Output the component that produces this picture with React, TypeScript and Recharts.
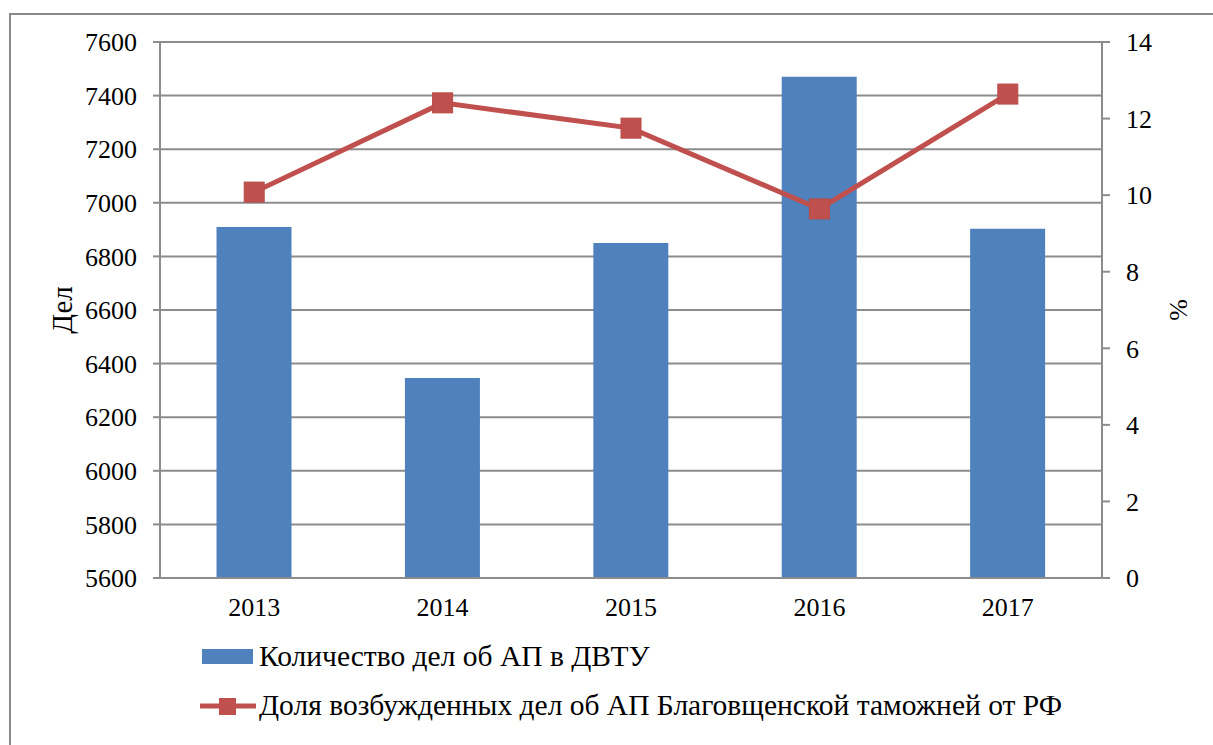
import React from 'react';
import { ComposedChart, Bar, Line, XAxis, YAxis, CartesianGrid, Legend, Label } from 'recharts';

const years = ['2013', '2014', '2015', '2016', '2017'];
const casesDVTU = [6910, 6346, 6850, 7470, 6903];
const sharePercent = [10.08, 12.41, 11.75, 9.64, 12.64];
const leftTicks = [5600, 5800, 6000, 6200, 6400, 6600, 6800, 7000, 7200, 7400, 7600];
const rightTicks = [0, 2, 4, 6, 8, 10, 12, 14];
const boundaryTicks = [0, 1, 2, 3, 4, 5];

const barName = 'Количество дел об АП в ДВТУ';
const lineName = 'Доля возбужденных дел об АП Благовщенской таможней от РФ';

const data = years.map((y, i) => ({ year: y, cases: casesDVTU[i], share: sharePercent[i] }));

const BLUE = '#4F81BD';
const RED = '#C0504D';
const GRID = '#8C8C8C';
const FONT = '"Liberation Serif"';

const SquareDot = (props: any) => {
  const { cx, cy } = props;
  if (cx == null || cy == null) return <g />;
  return <rect x={cx - 10} y={cy - 10} width={20} height={20} fill={RED} stroke="#B84A47" strokeWidth={1} />;
};

const LegendContent = () => (
  <div style={{ fontFamily: FONT, fontSize: 29.5, color: '#000', lineHeight: 1 }}>
    <div style={{ display: 'flex', alignItems: 'center', height: 49 }}>
      <div style={{ width: 202 }} />
      <div style={{ width: 51, height: 15, background: BLUE }} />
      <div style={{ width: 6 }} />
      <span>{barName}</span>
    </div>
    <div style={{ display: 'flex', alignItems: 'center', height: 49 }}>
      <div style={{ width: 200 }} />
      <svg width={56} height={22} style={{ display: 'block' }}>
        <line x1={1} y1={11} x2={55} y2={11} stroke={RED} strokeWidth={5} strokeLinecap="round" />
        <rect x={19} y={3} width={17} height={17} fill={RED} />
      </svg>
      <div style={{ width: 3 }} />
      <span>{lineName}</span>
    </div>
  </div>
);

export default function App() {
  return (
    <div style={{ position: 'absolute', left: 0, top: 0, width: 1213, height: 745, overflow: 'hidden', background: '#fff', fontFamily: FONT }}>
      <div style={{ position: 'absolute', left: 9, top: 13, width: 1400, height: 900, border: '2px solid #898989', boxSizing: 'border-box' }} />
      <div style={{ position: 'absolute', left: 0, top: 0 }}>
        <ComposedChart width={1213} height={745} data={data} margin={{ top: 42, right: 0, left: 0, bottom: 127 }} barCategoryGap="30%" style={{ fontFamily: FONT }}>
          <CartesianGrid vertical={false} stroke={GRID} strokeWidth={2} yAxisId="left" />
          <XAxis
            dataKey="year"
            xAxisId="cat"
            tickLine={false}
            axisLine={{ stroke: GRID, strokeWidth: 2 }}
            tickSize={8}
            tickMargin={12}
            height={40}
            tick={{ fill: '#000', fontSize: 26, fontFamily: 'Liberation Serif' }}
          />
          <XAxis
            xAxisId="edge"
            type="number"
            domain={[0, 5]}
            ticks={boundaryTicks}
            allowDataOverflow
            axisLine={false}
            tickLine={{ stroke: GRID, strokeWidth: 2 }}
            tickSize={8}
            tick={() => <g />}
            height={0}
          />
          <YAxis
            yAxisId="left"
            orientation="left"
            width={160}
            domain={[5600, 7600]}
            ticks={leftTicks}
            interval={0}
            allowDataOverflow
            axisLine={{ stroke: GRID, strokeWidth: 2 }}
            tickLine={{ stroke: GRID, strokeWidth: 2 }}
            tickSize={7}
            tickMargin={16}
            tick={{ fill: '#000', fontSize: 26, fontFamily: 'Liberation Serif' }}
          >
            <Label
              content={(p: any) => {
                const vb = p.viewBox || { x: 0, y: 0, width: 0, height: 0 };
                const x = vb.x + 62;
                const y = vb.y + vb.height / 2;
                return (
                  <text x={x} y={y} transform={`rotate(-90 ${x} ${y})`} textAnchor="middle" dominantBaseline="central" fontFamily="Liberation Serif" fontSize={29} fill="#000">
                    Дел
                  </text>
                );
              }}
            />
          </YAxis>
          <YAxis
            yAxisId="right"
            orientation="right"
            width={111}
            domain={[0, 14]}
            ticks={rightTicks}
            interval={0}
            allowDataOverflow
            axisLine={{ stroke: GRID, strokeWidth: 2 }}
            tickLine={{ stroke: GRID, strokeWidth: 2 }}
            tickSize={8}
            tickMargin={16}
            tick={{ fill: '#000', fontSize: 26, fontFamily: 'Liberation Serif' }}
          >
            <Label
              content={(p: any) => {
                const vb = p.viewBox || { x: 0, y: 0, width: 0, height: 0 };
                const x = vb.x + 76;
                const y = vb.y + vb.height / 2;
                return (
                  <text x={x} y={y} transform={`rotate(-90 ${x} ${y})`} textAnchor="middle" dominantBaseline="central" fontFamily="Liberation Serif" fontSize={26} fill="#000">
                    %
                  </text>
                );
              }}
            />
          </YAxis>
          <Bar dataKey="cases" name={barName} xAxisId="cat" yAxisId="left" fill={BLUE} isAnimationActive={false} />
          <Line
            dataKey="share"
            name={lineName}
            xAxisId="cat"
            yAxisId="right"
            stroke={RED}
            strokeWidth={5}
            dot={<SquareDot />}
            activeDot={false}
            isAnimationActive={false}
          />
          <Legend
            layout="vertical"
            align="center"
            verticalAlign="middle"
            content={() => <LegendContent />}
            wrapperStyle={{ position: 'absolute', left: 0, top: 632, width: 1213, height: 100 }}
          />
        </ComposedChart>
      </div>
    </div>
  );
}
